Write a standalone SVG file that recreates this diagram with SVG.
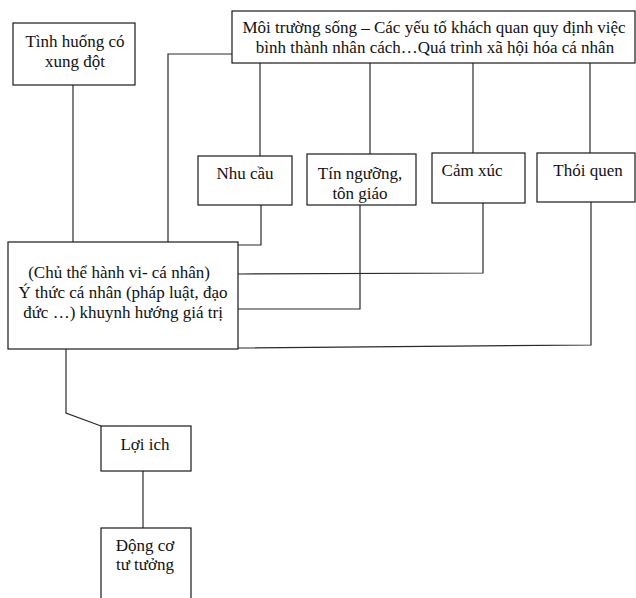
<svg xmlns="http://www.w3.org/2000/svg" width="636" height="598" viewBox="0 0 636 598">
<style>
.box{fill:#fff;stroke:#1a1a1a;stroke-width:1.2}
.ln{fill:none;stroke:#2a2a2a;stroke-width:1.2}
text{font-family:"Liberation Serif","DejaVu Serif",serif;font-size:17px;fill:#111;text-anchor:middle}
</style>
<rect width="636" height="598" fill="#fff"/>
<g id="connectors">
<polyline class="ln" points="73,85 73,242"/>
<polyline class="ln" points="232,54 168,54 168,242"/>
<polyline class="ln" points="260,63 260,156"/>
<polyline class="ln" points="370,63 370,154"/>
<polyline class="ln" points="473,63 473,153"/>
<polyline class="ln" points="590,63 590,153"/>
<polyline class="ln" points="261,205 261,245 238,245"/>
<polyline class="ln" points="360,205 360,309 238,309"/>
<polyline class="ln" points="483,203 483,273 238,274"/>
<polyline class="ln" points="591,202 591,345 238,348"/>
<polyline class="ln" points="66,349 66,413 101,426"/>
<polyline class="ln" points="143,471 143,528"/>
</g>
<g id="tinh-huong">
<rect class="box" x="13" y="23" width="122" height="62"/>
<text x="75" y="47">Tình huống có</text>
<text x="75" y="67">xung đột</text>
</g>
<g id="moi-truong">
<rect class="box" x="232" y="11" width="403" height="52"/>
<text x="434" y="33">Môi trường sống – Các yếu tố khách quan quy định việc</text>
<text x="435" y="53">bình thành nhân cách…Quá trình xã hội hóa cá nhân</text>
</g>
<g id="nhu-cau">
<rect class="box" x="198" y="156" width="94" height="49"/>
<text x="245" y="179">Nhu cầu</text>
</g>
<g id="tin-nguong">
<rect class="box" x="307" y="154" width="109" height="51"/>
<text x="360" y="179">Tín ngưỡng,</text>
<text x="360" y="199">tôn giáo</text>
</g>
<g id="cam-xuc">
<rect class="box" x="432" y="153" width="93" height="50"/>
<text x="472" y="176">Cảm xúc</text>
</g>
<g id="thoi-quen">
<rect class="box" x="537" y="153" width="98" height="49"/>
<text x="588" y="176">Thói quen</text>
</g>
<g id="chu-the">
<rect class="box" x="8" y="242" width="230" height="107"/>
<text x="119" y="278">(Chủ thể hành vi- cá nhân)</text>
<text x="123" y="298">Ý thức cá nhân (pháp luật, đạo</text>
<text x="123" y="318">đức …) khuynh hướng giá trị</text>
</g>
<g id="loi-ich">
<rect class="box" x="101" y="426" width="90" height="45"/>
<text x="145" y="450">Lợi ich</text>
</g>
<g id="dong-co">
<rect class="box" x="101" y="528" width="90" height="80"/>
<text x="145" y="551">Động cơ</text>
<text x="145" y="570">tư tưởng</text>
</g>
</svg>
